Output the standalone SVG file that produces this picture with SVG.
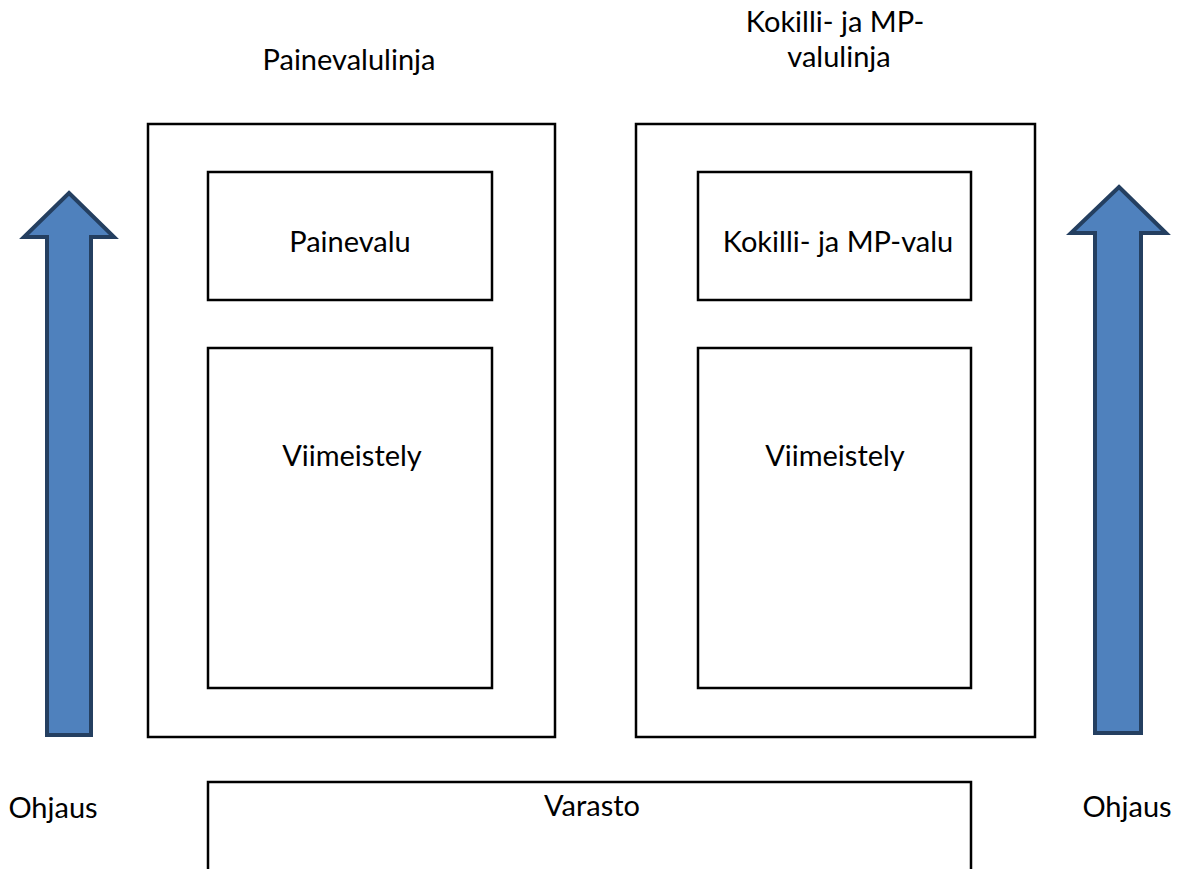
<svg xmlns="http://www.w3.org/2000/svg" width="1180" height="869" viewBox="0 0 1180 869">
<style>
.box{fill:#fff;stroke:#000;stroke-width:2.5}
.arr{fill:#4F81BD;stroke:#243F60;stroke-width:4;stroke-linejoin:miter}
text{font-family:Lato,"Open Sans",sans-serif;font-size:29px;fill:#000;text-anchor:middle}
</style>
<rect width="1180" height="869" fill="#fff"/>
<g id="line1">
<rect class="box" x="148" y="124" width="407" height="613"/>
<text x="349" y="70">Painevalulinja</text>
</g>
<g id="line2">
<rect class="box" x="636" y="124" width="399" height="613"/>
<text x="835" y="32">Kokilli- ja MP-</text>
<text x="839" y="67">valulinja</text>
</g>
<g id="painevalu">
<rect class="box" x="208" y="172" width="284" height="128"/>
<text x="350" y="252">Painevalu</text>
</g>
<g id="viim1">
<rect class="box" x="208" y="348" width="284" height="340"/>
<text x="352" y="466">Viimeistely</text>
</g>
<g id="kokilli">
<rect class="box" x="698" y="172" width="273" height="128"/>
<text x="838" y="252">Kokilli- ja MP-valu</text>
</g>
<g id="viim2">
<rect class="box" x="698" y="348" width="273" height="340"/>
<text x="835" y="466">Viimeistely</text>
</g>
<g id="varasto">
<path d="M208 870 V782 H971 V870" fill="none" stroke="#000" stroke-width="2.5"/>
<text x="592" y="816">Varasto</text>
</g>
<g id="ohjaus-left">
<path class="arr" d="M69 193 L114 237 H91 V735 H47 V237 H24 Z"/>
<text x="53" y="818">Ohjaus</text>
</g>
<g id="ohjaus-right">
<path class="arr" d="M1119 187 L1166 233 H1141 V733 H1095 V233 H1071 Z"/>
<text x="1127" y="817">Ohjaus</text>
</g>
<g id="connectors"></g>
</svg>
